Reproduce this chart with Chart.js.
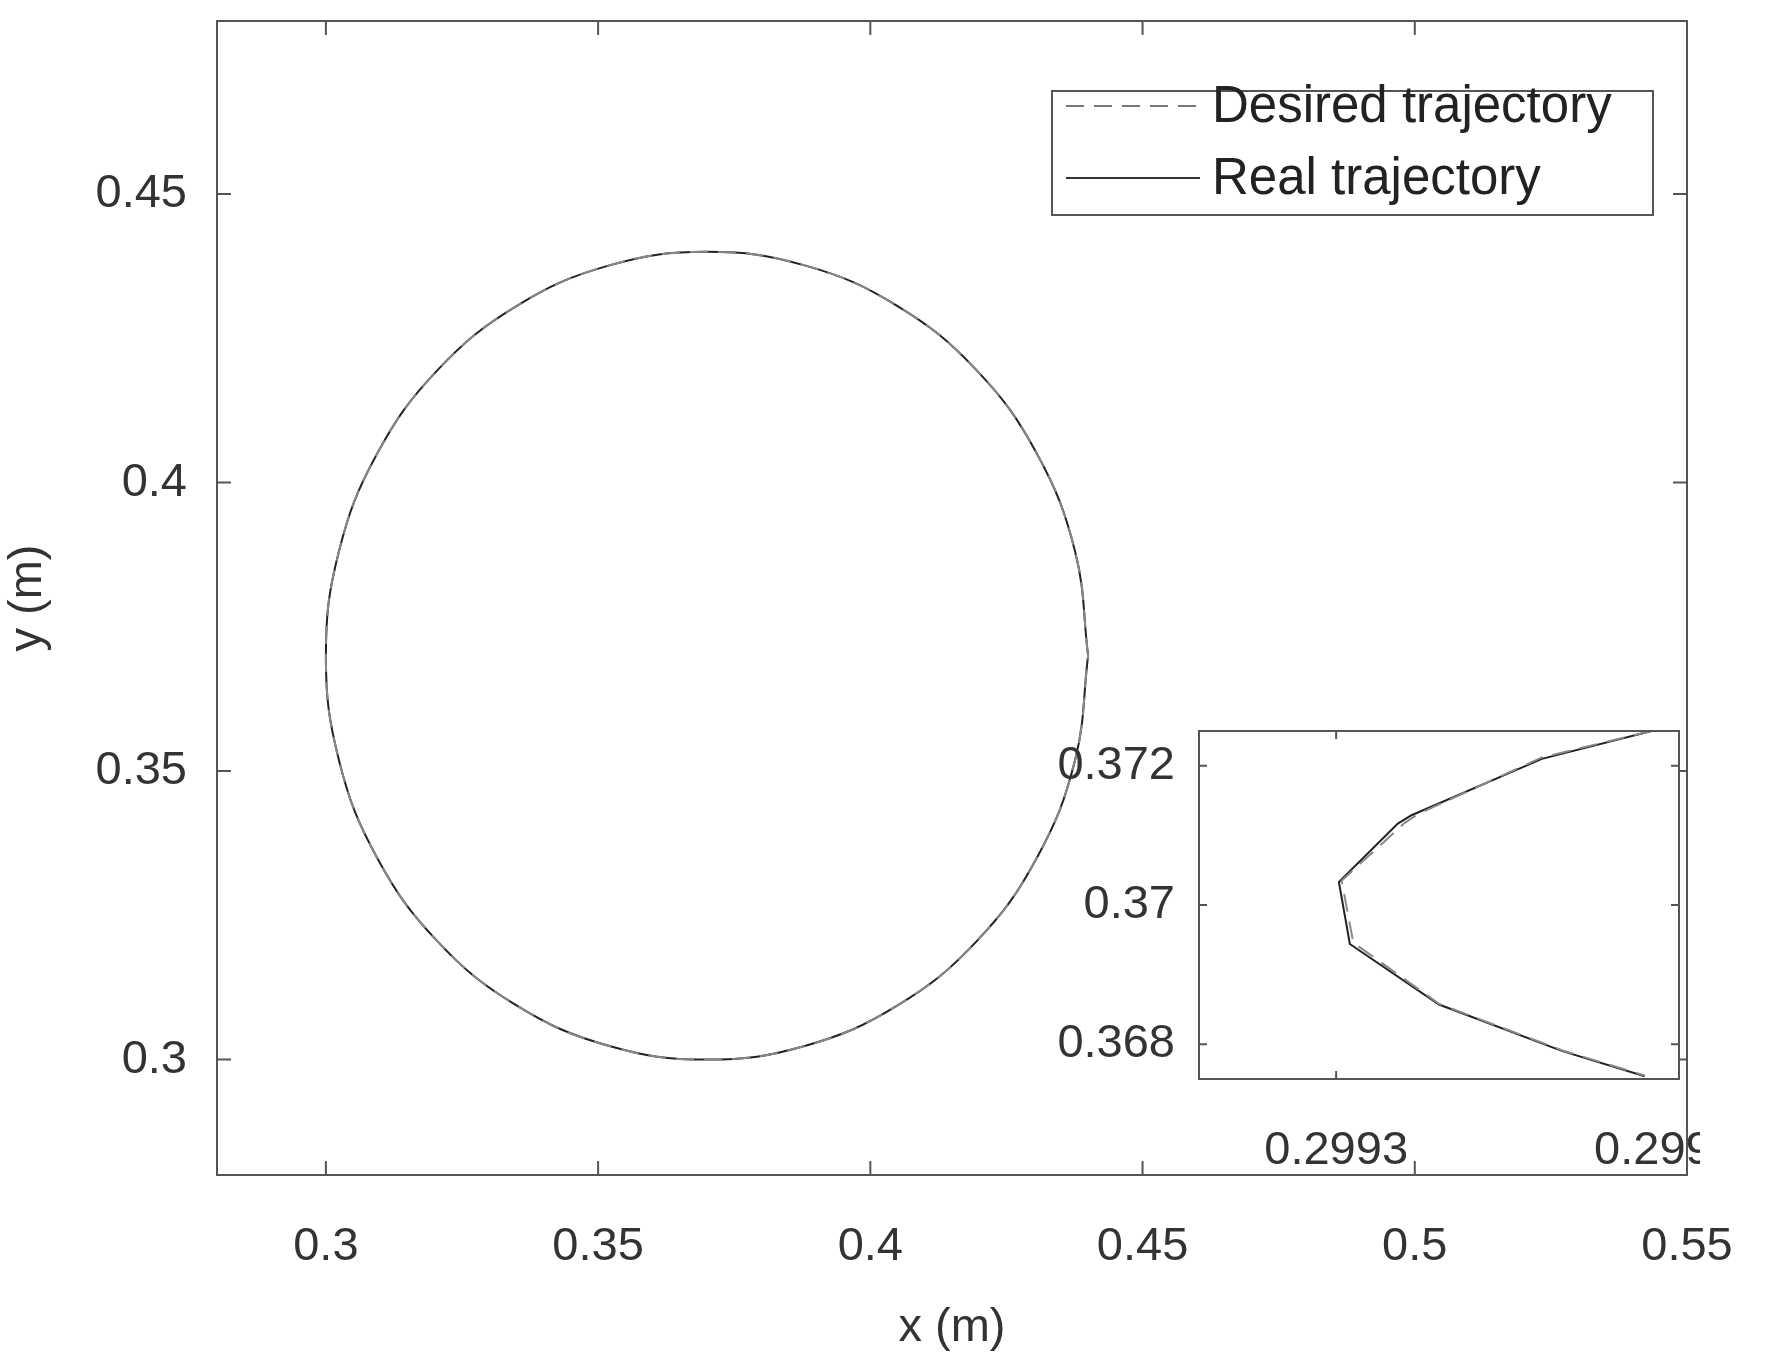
<!DOCTYPE html>
<html>
<head>
<meta charset="utf-8">
<script src="https://cdn.jsdelivr.net/npm/chart.js@4.4.1/dist/chart.umd.min.js"></script>
<style>
  body { margin: 0; background: #fff; }
  #wrap { position: relative; width: 1784px; height: 1356px; }
  #main { position: absolute; left: 0; top: 0; }
  #inset { position: absolute; left: 1040px; top: 700px; }
</style>
</head>
<body>
<div id="wrap">
  <canvas id="main" width="1784" height="1356"></canvas>
  <canvas id="inset" width="660" height="470"></canvas>
</div>
<script>
// trajectory (x, y in metres)
const realX = [0.44, 0.4376, 0.4306, 0.4195, 0.405, 0.3881, 0.37, 0.3519, 0.335, 0.3205, 0.3094, 0.3024, 0.30,
  0.3024, 0.3094, 0.3205, 0.335, 0.3519, 0.37, 0.3881, 0.405, 0.4195, 0.4306, 0.4376, 0.44]
const realY = [0.37, 0.3881, 0.405, 0.4195, 0.4306, 0.4376, 0.44, 0.4376, 0.4306, 0.4195, 0.405, 0.3881, 0.37,
  0.3519, 0.335, 0.3205, 0.3094, 0.3024, 0.30, 0.3024, 0.3094, 0.3205, 0.335, 0.3519, 0.37]
const desiredX = realX
const desiredY = realY

// zoomed part near the leftmost point
const zoomRealX = [0.299346, 0.29933, 0.299311, 0.299309, 0.2993004, 0.299302, 0.299315, 0.299333, 0.299345]
const zoomRealY = [0.3725, 0.3721, 0.37129, 0.37117, 0.37033, 0.36944, 0.36857, 0.3679, 0.36754]
const zoomDesX = [0.299346, 0.29933, 0.299312, 0.29931, 0.2993008, 0.2993025, 0.299315, 0.299333, 0.299345]
const zoomDesY = [0.3725, 0.37212, 0.37131, 0.37118, 0.37035, 0.36946, 0.36858, 0.36791, 0.36755]

const mainXTicks = [0.3, 0.35, 0.4, 0.45, 0.5, 0.55]
const mainYTicks = [0.3, 0.35, 0.4, 0.45]
const insetXTicks = [0.2993, 0.29935]
const insetYTicks = [0.368, 0.37, 0.372]

const pts = (xs, ys) => xs.map((x, i) => ({ x, y: ys[i] }))
const font = { family: 'Arial, "Liberation Sans", sans-serif', size: 47 }

const frame = {
  id: 'frame',
  afterDraw(chart) {
    const { ctx, chartArea: a } = chart
    ctx.save()
    ctx.strokeStyle = '#555'
    ctx.lineWidth = 2
    ctx.strokeRect(a.left, a.top, a.right - a.left, a.bottom - a.top)
    // inward ticks like the original
    const xs = chart.scales.x, ys = chart.scales.y
    const L = chart.canvas.id === 'main' ? 14 : 8
    ctx.beginPath()
    for (const t of xs.ticks) {
      const p = xs.getPixelForValue(t.value)
      if (p < a.left + 1 || p > a.right - 1) continue
      ctx.moveTo(p, a.bottom); ctx.lineTo(p, a.bottom - L)
      ctx.moveTo(p, a.top); ctx.lineTo(p, a.top + L)
    }
    for (const t of ys.ticks) {
      const p = ys.getPixelForValue(t.value)
      ctx.moveTo(a.left, p); ctx.lineTo(a.left + L, p)
      ctx.moveTo(a.right, p); ctx.lineTo(a.right - L, p)
    }
    ctx.stroke()
    ctx.restore()
  },
}

const legendBox = {
  id: 'legendBox',
  afterDraw(chart) {
    const { ctx } = chart
    ctx.save()
    ctx.fillStyle = '#fff'
    ctx.fillRect(1052, 91, 601, 124)
    ctx.strokeStyle = '#555'
    ctx.lineWidth = 2
    ctx.strokeRect(1052, 91, 601, 124)
    ctx.strokeStyle = '#777'
    ctx.setLineDash([18, 10])
    ctx.beginPath(); ctx.moveTo(1066, 106); ctx.lineTo(1200, 106); ctx.stroke()
    ctx.setLineDash([])
    ctx.strokeStyle = '#333'
    ctx.beginPath(); ctx.moveTo(1066, 178); ctx.lineTo(1200, 178); ctx.stroke()
    ctx.fillStyle = '#222'
    ctx.font = '51px Arial, "Liberation Sans", sans-serif'
    ctx.textBaseline = 'middle'
    ctx.fillText('Desired trajectory', 1212, 108)
    ctx.fillText('Real trajectory', 1212, 180)
    ctx.restore()
  },
}

function lineSets(dx, dy, rx, ry, tension) {
  return [
    { label: 'Desired trajectory', data: pts(dx, dy), showLine: true, borderColor: '#888',
      borderDash: [18, 10], borderWidth: 2, pointRadius: 0, tension },
    { label: 'Real trajectory', data: pts(rx, ry), showLine: true, borderColor: '#222',
      borderWidth: 2, pointRadius: 0, tension },
  ]
}

function axis(min, max, ticks, size, pad, title) {
  return {
    type: 'linear', min, max,
    afterBuildTicks: (s) => { s.ticks = ticks.map((v) => ({ value: v })) },
    afterFit: (s) => {
      if (s.isHorizontal()) s.height = size; else s.width = size
      s.paddingLeft = 0; s.paddingRight = 0; s.paddingTop = 0; s.paddingBottom = 0
    },
    grid: { display: false },
    border: { display: false },
    ticks: { color: '#333', font, padding: pad, callback: (v) => String(v) },
    title: title ? { display: true, text: title, color: '#333', font: { ...font, size: 47 }, padding: 0 } : { display: false },
  }
}

new Chart(document.getElementById('main'), {
  type: 'scatter',
  data: { datasets: lineSets(desiredX, desiredY, realX, realY, 0.4) },
  options: {
    responsive: false, animation: false,
    layout: { padding: { top: 21, right: 97, left: 0, bottom: 0 } },
    plugins: { legend: { display: false }, tooltip: { enabled: false } },
    scales: {
      x: axis(0.28, 0.55, mainXTicks, 181, 36, 'x (m)'),
      y: axis(0.28, 0.48, mainYTicks, 217, 22, 'y (m)'),
    },
  },
  plugins: [frame, legendBox],
})

new Chart(document.getElementById('inset'), {
  type: 'scatter',
  data: { datasets: lineSets(zoomDesX, zoomDesY, zoomRealX, zoomRealY, 0) },
  options: {
    responsive: false, animation: false,
    layout: { padding: { top: 31, right: 21, left: 0, bottom: 0 } },
    plugins: { legend: { display: false }, tooltip: { enabled: false } },
    scales: {
      x: axis(0.29928, 0.29935, insetXTicks, 91, 36),
      y: axis(0.3675, 0.3725, insetYTicks, 159, 16),
    },
  },
  plugins: [frame, {
    id: 'bg',
    beforeDraw(chart) {
      const { ctx, chartArea: a } = chart
      ctx.save(); ctx.fillStyle = '#fff'
      ctx.fillRect(a.left, a.top, a.right - a.left, a.bottom - a.top); ctx.restore()
    },
  }],
})
</script>
</body>
</html>
